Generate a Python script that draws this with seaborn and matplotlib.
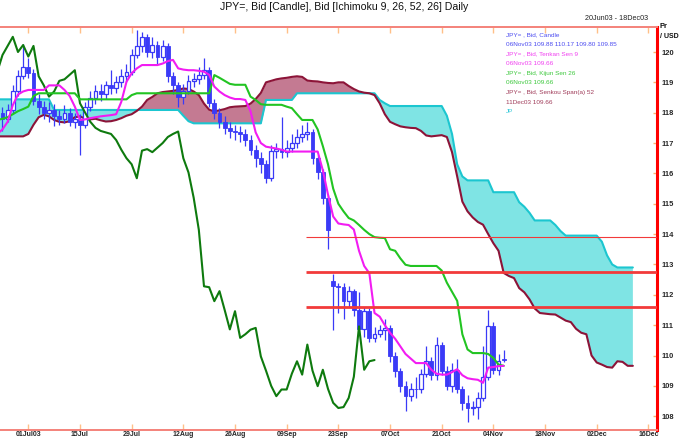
import matplotlib
matplotlib.use("Agg")
import matplotlib.pyplot as plt
import numpy as np
import pandas as pd
import seaborn as sns

sns.set_theme(style="white")
plt.rcParams['font.family'] = ['Liberation Sans', 'DejaVu Sans']

# ---------------- data (trading-day index, 0 = 01Jul03) ----------------
price_days = list(range(-6, 93))      # candles: 23Jun03 .. 06Nov03
cloud_days = list(range(-6, 118))     # senkou spans run 25 bars ahead (to 11Dec03)

opens = [118.2, 118.0, 117.8, 118.1, 118.7, 119.2, 119.5, 119.3, 118.4, 118.2,
         118.0, 118.1, 117.9, 117.8, 118.0, 117.7, 117.8, 117.6, 118.2, 118.5,
         118.7, 118.6, 118.9, 118.8, 119.0, 119.2, 119.35, 119.9, 120.2, 120.5,
         120.0, 120.23, 119.85, 120.2, 119.2, 118.9, 118.53, 118.7, 119.05, 119.1,
         119.25, 119.4, 118.31, 118.0, 117.7, 117.5, 117.4, 117.35, 117.3, 117.1,
         116.78, 116.5, 116.3, 115.84, 116.75, 116.8, 116.7, 116.85, 117.0, 117.2,
         117.3, 117.38, 116.5, 116.03, 115.2, 112.45, 112.28, 112.25, 111.79, 112.12,
         111.5, 110.86, 111.46, 110.58, 110.7, 110.85, 110.91, 109.97, 109.5, 109.0,
         108.66, 108.88, 108.88, 109.4, 109.81, 109.37, 110.36, 109.5, 108.99, 109.53,
         108.9, 108.44, 108.27, 108.3, 108.6, 109.3, 110.96, 109.53, 109.88]
highs = [118.35, 118.2, 118.3, 118.9, 119.4, 120.25, 119.8, 119.45, 118.6, 118.4,
         118.35, 118.3, 118.1, 118.25, 118.15, 118.0, 117.95, 118.35, 118.7, 118.9,
         118.95, 119.05, 119.4, 119.2, 119.45, 119.6, 120.1, 120.72, 120.65, 120.6,
         120.5, 120.35, 120.4, 120.3, 119.35, 119.0, 118.95, 119.25, 119.3, 119.5,
         119.8, 119.5, 118.45, 118.15, 117.9, 117.7, 117.6, 117.55, 117.45, 117.25,
         116.95, 116.7, 116.45, 116.95, 117.0, 117.85, 117.1, 117.3, 117.45, 117.6,
         117.7, 117.45, 116.6, 116.15, 115.3, 112.7, 112.4, 112.4, 112.3, 112.2,
         112.1, 111.6, 111.55, 110.95, 111.0, 111.2, 111.0, 110.1, 109.6, 109.15,
         109.1, 109.3, 109.55, 110.3, 109.95, 110.6, 110.45, 109.65, 109.75, 109.9,
         109.0, 108.7, 108.5, 108.8, 110.3, 111.5, 111.1, 110.05, 110.17]
lows = [117.85, 117.4, 117.7, 118.0, 118.55, 119.1, 119.15, 118.25, 117.95, 117.8,
        117.7, 117.55, 117.6, 117.65, 117.55, 117.5, 116.6, 117.5, 118.05, 118.3,
        118.4, 118.45, 118.6, 118.65, 118.85, 119.0, 119.25, 119.8, 120.0, 119.85,
        119.8, 119.6, 119.7, 119.0, 118.6, 118.2, 118.3, 118.6, 118.85, 118.95,
        119.1, 118.2, 117.8, 117.5, 117.3, 117.15, 117.1, 117.05, 116.9, 116.6,
        116.2, 116.0, 115.7, 115.75, 116.5, 116.5, 116.55, 116.7, 116.85, 117.05,
        117.1, 116.3, 115.8, 115.0, 113.5, 110.85, 111.4, 111.2, 111.6, 111.3,
        110.7, 110.6, 110.45, 110.45, 110.6, 110.5, 109.8, 109.3, 108.8, 108.16,
        108.5, 108.6, 108.75, 109.3, 109.2, 109.2, 109.35, 108.85, 108.8, 108.75,
        108.2, 107.8, 108.05, 107.9, 108.5, 109.2, 109.4, 109.35, 109.80]
closes = [118.0, 117.8, 118.1, 118.7, 119.2, 119.5, 119.3, 118.4, 118.2, 118.0,
          118.1, 117.9, 117.8, 118.0, 117.7, 117.8, 117.6, 118.2, 118.5, 118.7,
          118.6, 118.9, 118.8, 119.0, 119.2, 119.35, 119.9, 120.2, 120.5, 120.0,
          120.23, 119.85, 120.2, 119.2, 118.9, 118.53, 118.7, 119.05, 119.1, 119.25,
          119.4, 118.31, 118.0, 117.7, 117.5, 117.4, 117.35, 117.3, 117.1, 116.78,
          116.5, 116.3, 115.84, 116.75, 116.8, 116.7, 116.85, 117.0, 117.2, 117.3,
          117.38, 116.5, 116.03, 115.2, 114.14, 112.28, 112.25, 111.79, 112.12, 111.5,
          110.86, 111.46, 110.58, 110.7, 110.85, 110.91, 109.97, 109.5, 109.0, 108.66,
          108.88, 108.88, 109.4, 109.81, 109.37, 110.36, 109.5, 108.99, 109.53, 108.9,
          108.44, 108.27, 108.3, 108.6, 109.3, 110.96, 109.53, 109.81, 109.85]

tenkan = [117.3, 117.45, 117.7, 118.25, 118.6, 118.7, 118.75, 118.75, 118.75, 118.75,
          118.9, 118.9, 118.9, 118.75, 118.55, 118.2, 117.76, 117.78, 117.82, 117.85,
          117.88, 117.9, 117.92, 117.95, 118.36, 119.02, 119.3, 119.46, 119.57, 119.57,
          119.57, 119.57, 119.62, 119.7, 119.74, 119.46, 119.42, 119.4, 119.4, 119.38,
          119.35, 119.25, 118.86, 118.7, 118.58, 118.5, 118.45, 118.45, 118.42, 118.05,
          117.35, 117.0, 116.88, 116.85, 116.82, 116.78, 116.72, 116.72, 116.72, 116.72,
          116.72, 116.72, 116.72, 116.1, 115.3, 114.58, 114.35, 114.32, 114.3, 114.15,
          113.45, 112.95, 112.71, 111.4, 111.28, 111.0, 110.75, 110.55, 110.3, 110.05,
          109.9, 109.75, 109.75, 109.75, 109.53, 109.4, 109.37, 109.37, 109.45, 109.55,
          109.35, 109.25, 109.22, 109.2, 109.1, 109.6, 109.62, 109.65, 109.66]
kijun = [117.76, 117.8, 117.85, 117.95, 118.05, 118.12, 118.2, 118.55, 118.64, 118.64,
         118.64, 118.64, 118.64, 118.64, 118.64, 118.64, 118.44, 118.44, 118.44, 118.44,
         118.44, 118.44, 118.44, 118.44, 118.44, 118.44, 118.58, 118.64, 118.64, 118.64,
         118.64, 118.64, 118.64, 118.64, 118.64, 118.64, 118.64, 118.64, 118.64, 118.64,
         118.64, 118.64, 119.24, 119.15, 119.05, 118.95, 118.92, 118.92, 118.92, 118.53,
         118.42, 118.28, 118.26, 118.26, 118.26, 118.26, 118.2, 118.15, 117.95, 117.76,
         117.76, 117.76, 117.45, 116.9, 116.3, 115.5, 115.0, 114.75, 114.53, 114.45,
         114.3, 114.14, 114.0, 113.9, 113.88, 113.87, 113.5, 113.45, 113.2, 112.99,
         112.95, 112.95, 112.95, 112.95, 112.95, 112.95, 112.8, 112.4, 112.1, 111.8,
         110.7, 110.2, 110.08, 110.08, 110.08, 110.05, 109.92, 109.7, 109.66]
span_a = [117.22, 117.22, 117.22, 117.22, 117.22, 117.22, 117.3, 117.6, 117.85, 117.93,
          117.88, 117.76, 117.7, 117.68, 117.72, 117.85, 117.88, 117.8, 117.78, 117.8,
          117.75, 117.71, 117.72, 117.76, 117.82, 117.9, 117.95, 118.06, 118.2, 118.42,
          118.52, 118.64, 118.68, 118.7, 118.72, 118.75, 118.8, 118.78, 118.7, 118.58,
          118.3, 118.1, 118.04, 118.08, 118.12, 118.18, 118.2, 118.21, 118.22, 118.3,
          118.45, 118.65, 119.0, 119.05, 119.1, 119.13, 119.15, 119.18, 119.2, 119.18,
          119.06, 119.04, 119.03, 119.0, 118.98, 118.97, 119.0, 119.0, 118.88, 118.78,
          118.7, 118.66, 118.64, 118.58, 118.31, 117.95, 117.7, 117.62, 117.55, 117.52,
          117.5, 117.49, 117.4, 117.25, 117.22, 117.24, 117.26, 117.2, 116.7, 115.9,
          115.07, 114.75, 114.55, 114.4, 114.31, 114.0, 113.7, 113.45, 112.72, 112.62,
          112.55, 112.22, 112.08, 111.85, 111.55, 111.4, 111.38, 111.36, 111.35, 111.25,
          111.15, 111.1, 110.88, 110.75, 110.7, 110.0, 109.77, 109.7, 109.62, 109.6,
          109.81, 109.79, 109.66, 109.66]
span_b = [118.44, 118.44, 118.44, 118.44, 118.44, 118.44, 118.44, 118.44, 118.44, 118.44,
          118.44, 118.09, 118.09, 118.09, 118.09, 118.09, 118.09, 118.09, 118.09, 118.09,
          118.09, 118.09, 118.09, 118.09, 118.09, 118.09, 118.09, 118.09, 118.09, 118.09,
          118.09, 118.09, 118.09, 118.09, 118.09, 118.09, 117.9, 117.72, 117.65, 117.65,
          117.65, 117.65, 117.65, 117.65, 117.65, 117.65, 117.65, 117.65, 117.65, 117.65,
          117.65, 117.65, 118.42, 118.42, 118.42, 118.42, 118.42, 118.42, 118.64, 118.64,
          118.64, 118.64, 118.64, 118.64, 118.64, 118.64, 118.64, 118.64, 118.64, 118.64,
          118.64, 118.64, 118.64, 118.64, 118.42, 118.31, 118.22, 118.22, 118.22, 118.22,
          118.22, 118.22, 118.22, 118.22, 118.22, 118.22, 118.22, 117.9, 117.3, 116.3,
          115.9, 115.77, 115.77, 115.77, 115.77, 115.77, 115.38, 115.38, 115.38, 115.38,
          115.38, 115.05, 114.9, 114.7, 114.45, 114.45, 114.45, 114.45, 114.3, 114.1,
          113.95, 113.95, 113.95, 113.95, 113.95, 113.95, 113.95, 113.75, 113.3, 113.0,
          112.9, 112.9, 112.9, 112.9]
chikou_shift = 25

level_lines = [113.9, 112.75, 111.6]
level_widths = [0.8, 2.0, 2.0]

tick_days = list(range(0, 121, 10))
tick_labels = ["01Jul03", "15Jul", "29Jul", "12Aug", "26Aug", "09Sep", "23Sep",
               "07Oct", "21Oct", "04Nov", "18Nov", "02Dec", "16Dec"]
price_ticks = list(range(108, 121))

legend_lines = [
    ("JPY= , Bid, Candle", "#4b4bf0"),
    ("06Nov03 109.88 110.17 109.80 109.85", "#4b4bf0"),
    ("JPY= , Bid, Tenkan Sen 9", "#f040f0"),
    ("06Nov03 109.66", "#f040f0"),
    ("JPY= , Bid, Kijun Sen 26", "#3cc83c"),
    ("06Nov03 109.66", "#3cc83c"),
    ("JPY= , Bid, Senkou Span(a) 52", "#a03c5a"),
    ("11Dec03 109.66", "#a03c5a"),
    ("JP", "#30c8d8"),
]

# ---------------- figure ----------------
W, H = 688, 440
top_px, bot_px, right_px = 27, 430, 657
px_per_unit = 30.35
fig = plt.figure(figsize=(W / 100, H / 100), dpi=100)
ax = fig.add_axes([0, 1 - bot_px / H, right_px / W, (bot_px - top_px) / H])
ax.set_facecolor("white")

cd = np.array(cloud_days)
a = np.array(span_a)
b = np.array(span_b)
ax.fill_between(cd, a, b, where=b >= a, interpolate=True, color="#7fe4e4", lw=0, zorder=1)
ax.fill_between(cd, a, b, where=a >= b, interpolate=True, color="#c47a92", lw=0, zorder=1)

cloud_df = pd.DataFrame({"day": cloud_days, "span_a": span_a, "span_b": span_b})
sns.lineplot(data=cloud_df, x="day", y="span_b", ax=ax, color="#1cc6d0", lw=1.5,
             estimator=None, sort=False, zorder=2)
sns.lineplot(data=cloud_df, x="day", y="span_a", ax=ax, color="#8c1438", lw=1.5,
             estimator=None, sort=False, zorder=2)

# candles
blue = "#3a3af7"
d = np.array(price_days)
o = np.array(opens); h = np.array(highs); l = np.array(lows); c = np.array(closes)
up = c > o
ax.vlines(d, l, h, color=blue, lw=0.9, zorder=3)
ax.bar(d[~up], np.maximum(o - c, 0.02)[~up], bottom=np.minimum(o, c)[~up], width=0.74,
       color=blue, edgecolor=blue, lw=0.6, zorder=4)
ax.bar(d[up], (c - o)[up], bottom=o[up], width=0.74, color="white",
       edgecolor=blue, lw=0.9, zorder=4)

price_df = pd.DataFrame({"day": price_days, "close": closes, "tenkan": tenkan,
                         "kijun": kijun})
price_df["chikou_day"] = price_df["day"] - chikou_shift
sns.lineplot(data=price_df, x="chikou_day", y="close", ax=ax, color="#0e7a0e", lw=1.5,
             estimator=None, sort=False, zorder=5)
sns.lineplot(data=price_df, x="day", y="kijun", ax=ax, color="#22c422", lw=1.5,
             estimator=None, sort=False, zorder=5)
sns.lineplot(data=price_df, x="day", y="tenkan", ax=ax, color="#f21cf2", lw=1.5,
             estimator=None, sort=False, zorder=5)

x0, x1 = -5.48, 121.67
for lvl, lw in zip(level_lines, level_widths):
    ax.hlines(lvl, 53.8, x1, color="#f23a3a", lw=lw, zorder=6)

ax.set_xlim(x0, x1)
ax.set_ylim(120 - (bot_px - 52) / px_per_unit, 120 + (52 - top_px) / px_per_unit)
ax.set_xlabel("")
ax.set_ylabel("")

ax.set_xticks(tick_days)
ax.set_xticklabels(tick_labels, fontsize=5.0, fontweight="bold")
ax.tick_params(axis="x", which="both", direction="in", length=4, width=1,
               color="#ffc088", top=True, bottom=True, labelbottom=True, pad=0.6)
ax.yaxis.tick_right()
ax.set_yticks(price_ticks)
ax.set_yticklabels([str(v) for v in price_ticks], fontsize=5.4, fontweight="bold")
ax.tick_params(axis="y", direction="in", length=3, width=1, color="#ffb070",
               right=True, left=False, labelright=True, labelleft=False, pad=3)
ax.grid(False)

ax.spines["left"].set_visible(False)
for s in ("top", "bottom"):
    ax.spines[s].set_color("#f4827a")
    ax.spines[s].set_linewidth(1.4)
ax.spines["right"].set_color("#ff0000")
ax.spines["right"].set_linewidth(2.2)

# texts
fig.text(0.5, 1 - 7.5 / H, "JPY=, Bid [Candle], Bid [Ichimoku 9, 26, 52, 26] Daily",
         ha="center", va="center", fontsize=7.6, color="#111111")
fig.text(648 / W, 1 - 19 / H, "20Jun03 - 18Dec03", ha="right", va="center",
         fontsize=5.2, color="#222222")
fig.text(660 / W, 1 - 26 / H, "Pr", ha="left", va="center", fontsize=5.4,
         fontweight="bold", color="#111111")
fig.text(660 / W, 1 - 37 / H, "/ USD", ha="left", va="center", fontsize=5.0,
         fontweight="bold", color="#111111")

for k, (txt, col) in enumerate(legend_lines):
    fig.text(506 / W, 1 - (35 + 9.6 * k) / H, txt, ha="left", va="center",
             fontsize=4.6, color=col)

fig.savefig("out.png", dpi=100)
